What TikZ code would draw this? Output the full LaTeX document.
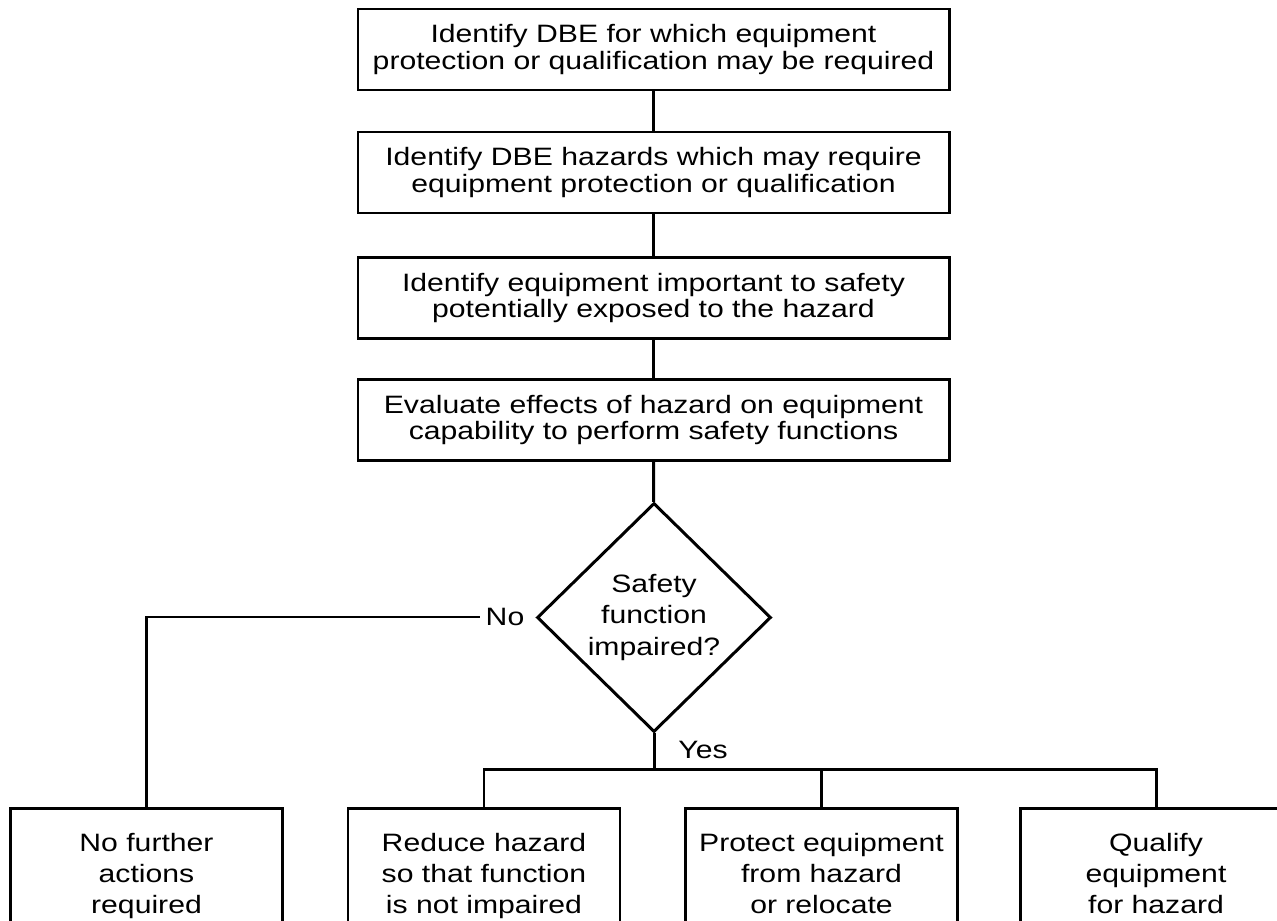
\documentclass[tikz,border=0pt]{standalone}
\usepackage{fontspec}
\setmainfont[FakeStretch=1.2]{Liberation Sans}
\usetikzlibrary{shapes.geometric}

\begin{document}
\begin{tikzpicture}[
  every node/.style={font=\fontsize{14.3}{15.3}\selectfont},
  stepbox/.style={draw,line width=1.7pt,minimum width=11.82cm,
                  minimum height=1.62cm,align=center},
  endbox/.style={draw,line width=1.7pt,minimum width=5.44cm,
                 minimum height=2.8cm,align=center,
                 font=\fontsize{14.3}{17.6}\selectfont,
                 execute at begin node=\strut,execute at end node=\strut},
  decide/.style={draw,diamond,line width=1.7pt,minimum width=4.68cm,
                 minimum height=4.58cm,inner sep=0pt,align=center,
                 font=\fontsize{14.3}{18}\selectfont},
  link/.style={line width=1.7pt}
]
\useasboundingbox (0,0) rectangle (25.54,-18.42);

\node[stepbox] (S1) at (13.07,-0.99)
  {Identify DBE for which equipment\\protection or qualification may be required};
\node[stepbox] (S2) at (13.07,-3.45)
  {Identify DBE hazards which may require\\equipment protection or qualification};
\node[stepbox] (S3) at (13.07,-5.96)
  {Identify equipment important to safety\\potentially exposed to the hazard};
\node[stepbox] (S4) at (13.07,-8.4)
  {Evaluate effects of hazard on equipment\\capability to perform safety functions};

\node[decide] (D) at (13.08,-12.35) {Safety\\function\\impaired?};
\node (no)  at (10.1,-12.34) {No};
\node (yes) at (14.06,-15.0) {Yes};

\node[endbox] (A) at (2.93,-17.56)  {No further\\actions\\required};
\node[endbox] (B) at (9.68,-17.56)  {Reduce hazard\\so that function\\is not impaired};
\node[endbox] (C) at (16.43,-17.56) {Protect equipment\\from hazard\\or relocate};
\node[endbox] (Q) at (23.12,-17.56) {Qualify\\equipment\\for hazard};

\coordinate (br) at (13.08,-15.38);

\draw[link] (S1) -- (S2);
\draw[link] (S2) -- (S3);
\draw[link] (S3) -- (S4);
\draw[link] (S4) -- (D);
\draw[link] (no) -| (A.north);
\draw[link] (D.south) -- (br);
\draw[link] (B.north) |- (br) -| (Q.north);
\draw[link] (C.north) -- (C.north |- br);
\end{tikzpicture}
\end{document}
